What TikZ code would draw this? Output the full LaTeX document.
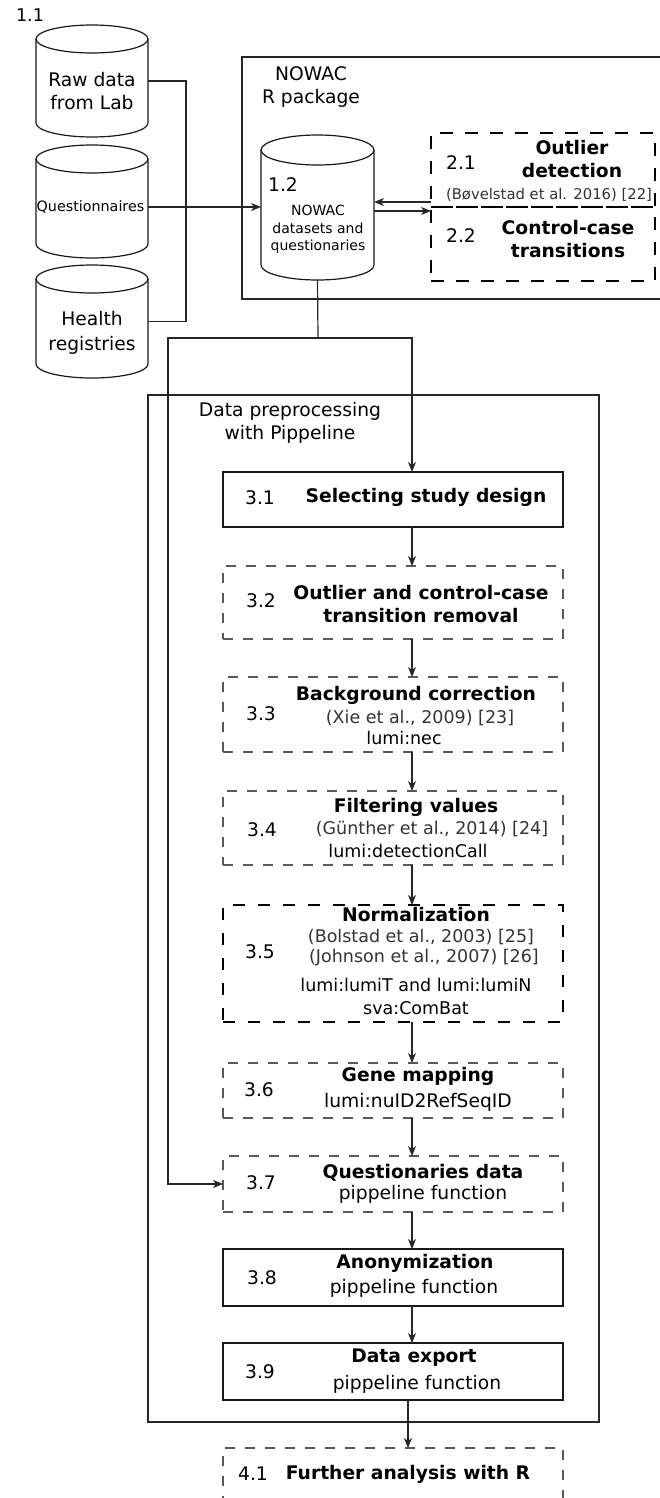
\documentclass[tikz,border=0pt]{standalone}
\usepackage{fontspec}
\setmainfont{DejaVu Sans}
\usetikzlibrary{arrows.meta,calc}
\newcommand\drawcyl[3]{%
  \draw[cylline] ([yshift=-#3]#1.north west) -- ([yshift=#3]#1.south west)
     arc[start angle=180,end angle=360,x radius=#2,y radius=#3]
     -- ([yshift=-#3]#1.north east);
  \draw[cylline] ([yshift=-#3]#1.north) ellipse[x radius=#2,y radius=#3];
}
\begin{document}
\begin{tikzpicture}[x=1pt,y=-1pt,
  ln/.style={line width=1.2pt, draw=black!85},
  arr/.style={ln, -{Stealth[length=10pt,width=8pt,inset=3pt]}},
  cylline/.style={line width=1.2pt, draw=black!90},
  geo/.style={rectangle, inner sep=0pt, outer sep=0pt},
  boxsolid/.style={geo, draw=black!90, line width=1.3pt, minimum width=340pt},
  boxdash/.style={geo, draw=black!65, line width=1.3pt, dash pattern=on 10pt off 10pt, minimum width=340pt},
  boxbig/.style={geo, draw=black, line width=2.5pt, dash pattern=on 12pt off 13pt, minimum width=340pt},
  outbox/.style={geo, draw=black, line width=1.3pt, dash pattern=on 13pt off 12pt, minimum width=224pt, minimum height=74pt},
  frame/.style={geo, draw=black!85, line width=1.3pt},
  txt/.style={inner sep=0pt, align=center, font=\fontsize{18.7}{23}\selectfont},
  btxt/.style={inner sep=0pt, align=center, font=\fontsize{18.7}{23}\selectfont\bfseries},
  ctxt/.style={inner sep=0pt, align=center, text=black!80, font=\fontsize{17.5}{21}\selectfont},
  ftxt/.style={inner sep=0pt, align=center, font=\fontsize{17.5}{21}\selectfont},
  small/.style={inner sep=0pt, align=center, font=\fontsize{14}{17.5}\selectfont},
]
\useasboundingbox (0,0) rectangle (660,1498);

% ---------- sources ----------
\node[txt, font=\fontsize{17.5}{20}\selectfont] (l11) at (30,15) {1.1};
\node[geo, minimum width=112pt, minimum height=112pt] (rawc) at (92,81) {};
\node[geo, minimum width=112pt, minimum height=113pt] (questc) at (92,201.5) {};
\node[geo, minimum width=112pt, minimum height=113pt] (healthc) at (92,321.5) {};
\drawcyl{rawc}{56pt}{14pt}
\drawcyl{questc}{56pt}{14pt}
\drawcyl{healthc}{56pt}{14pt}
\node[txt] (rawt) at (92,91.5) {Raw data\\from Lab};
\node[inner sep=0pt, font=\fontsize{14.3}{17}\selectfont] (questt) at (90.5,207) {Questionnaires};
\node[txt, font=\fontsize{18.7}{25}\selectfont] (healtht) at (92,332.5) {Health\\registries};

% ---------- NOWAC R package ----------
\node[frame, minimum width=423pt, minimum height=242pt] (pkg) at (453.5,178) {};
\node[txt] (pkgt) at (311,87) {NOWAC\\R package};
\node[geo, minimum width=113pt, minimum height=145pt] (nowacc) at (317.5,207.5) {};
\drawcyl{nowacc}{56.5pt}{15pt}
\node[txt] (l12) at (283,185) {1.2};
\node[small] (nowact) at (318,229.5) {NOWAC\\datasets and\\questionaries};

\node[outbox] (o21) at (543,170) {};
\node[outbox] (o22) at (543,244) {};
\node[txt] (n21) at (461,163) {2.1};
\node[btxt] (t21) at (572,159.5) {Outlier\\detection};
\node[inner sep=0pt, text=black!80, font=\fontsize{14.8}{17}\selectfont] (c21) at (549,195) {(Bøvelstad et al. 2016) [22]};
\node[txt] (n22) at (461,236) {2.2};
\node[btxt] (t22) at (568,239) {Control-case\\transitions};

% ---------- preprocessing ----------
\node[frame, minimum width=451pt, minimum height=1027pt] (prep) at (373.5,908.5) {};
\node[txt] (prept) at (290,423) {Data preprocessing\\with Pippeline};

\node[boxsolid, minimum height=55pt] (s31) at (393,499.5) {};
\node[boxdash, minimum height=73pt] (s32) at (393,602.5) {};
\node[boxdash, minimum height=75pt] (s33) at (393,714.5) {};
\node[boxdash, minimum height=74pt] (s34) at (393,828) {};
\node[boxbig, minimum height=117pt] (s35) at (393,963.5) {};
\node[boxdash, minimum height=55pt] (s36) at (393,1090.5) {};
\node[boxdash, minimum height=56pt] (s37) at (393,1184) {};
\node[boxsolid, minimum height=57pt] (s38) at (393,1277.5) {};
\node[boxsolid, minimum height=57pt] (s39) at (393,1371.5) {};
\node[boxdash, minimum height=72pt] (s41) at (393,1484) {};

\node[txt] (n31) at (260,498) {3.1};
\node[btxt] (t31) at (426,497) {Selecting study design};

\node[txt] (n32) at (261,601) {3.2};
\node[btxt] (t32) at (421,604) {Outlier and control-case\\transition removal};

\node[txt] (n33) at (261,714) {3.3};
\node[btxt] (t33) at (416,695) {Background correction};
\node[ctxt] (c33) at (420,718) {(Xie et al., 2009) [23]};
\node[ftxt] (f33) at (404,738) {lumi:nec};

\node[txt] (n34) at (262,830) {3.4};
\node[btxt] (t34) at (416,807) {Filtering values};
\node[ctxt] (c34) at (432,829) {(Günther et al., 2014) [24]};
\node[ftxt] (f34) at (408,851) {lumi:detectionCall};

\node[txt] (n35) at (260,952) {3.5};
\node[btxt] (t35) at (416,915) {Normalization};
\node[ctxt] (c35a) at (421,937) {(Bolstad et al., 2003) [25]};
\node[ctxt] (c35b) at (424,958) {(Johnson et al., 2007) [26]};
\node[ftxt] (f35a) at (416,985) {lumi:lumiT and lumi:lumiN};
\node[ftxt] (f35b) at (416,1008) {sva:ComBat};

\node[txt] (n36) at (259,1090) {3.6};
\node[btxt] (t36) at (418,1076) {Gene mapping};
\node[txt] (f36) at (418,1102) {lumi:nuID2RefSeqID};

\node[txt] (n37) at (261,1183) {3.7};
\node[btxt] (t37) at (423,1173) {Questionaries data};
\node[txt] (f37) at (423,1194) {pippeline function};

\node[txt] (n38) at (262,1278) {3.8};
\node[btxt] (t38) at (415,1263) {Anonymization};
\node[txt] (f38) at (414,1288) {pippeline function};

\node[txt] (n39) at (260,1372) {3.9};
\node[btxt] (t39) at (414,1358) {Data export};
\node[txt] (f39) at (417,1384) {pippeline function};

\node[txt] (n41) at (253,1474) {4.1};
\node[btxt] (t41) at (408,1474) {Further analysis with R};

% ---------- connectors ----------
\coordinate (rbus) at (186,0);
\draw[ln] (rawc.east) -| (rbus |- healthc.east) -- (healthc.east);
\draw[arr] (questc.east |- questt) -- (nowacc.west |- questt);

\coordinate (au) at ([yshift=5pt]o21.south west);
\coordinate (ad) at ([yshift=-4pt]o22.north west);
\draw[arr] (au) -- (au -| nowacc.east);
\draw[arr] (ad -| nowacc.east) -- (ad);

\coordinate (split) at (318,338);
\coordinate (lbend) at (168,338);
\coordinate (spine) at (412,0);
\coordinate (spineb) at (408,0);
\draw[ln] (nowacc.south) -- (split);
\draw[arr] (split) -| (spine |- s31.north);
\draw[arr] (split) -- (lbend) |- (s37.west);

\draw[arr] (s31.south -| spine) -- (s32.north -| spine);
\draw[arr] (s32.south -| spine) -- (s33.north -| spine);
\draw[arr] (s33.south -| spine) -- (s34.north -| spine);
\draw[arr] (s34.south -| spine) -- (s35.north -| spine);
\draw[arr] (s35.south -| spine) -- (s36.north -| spine);
\draw[arr] (s36.south -| spine) -- (s37.north -| spine);
\draw[arr] (s37.south -| spine) -- (s38.north -| spine);
\draw[arr] (s38.south -| spine) -- (s39.north -| spine);
\draw[arr] (s39.south -| spineb) -- (s41.north -| spineb);
\end{tikzpicture}
\end{document}
